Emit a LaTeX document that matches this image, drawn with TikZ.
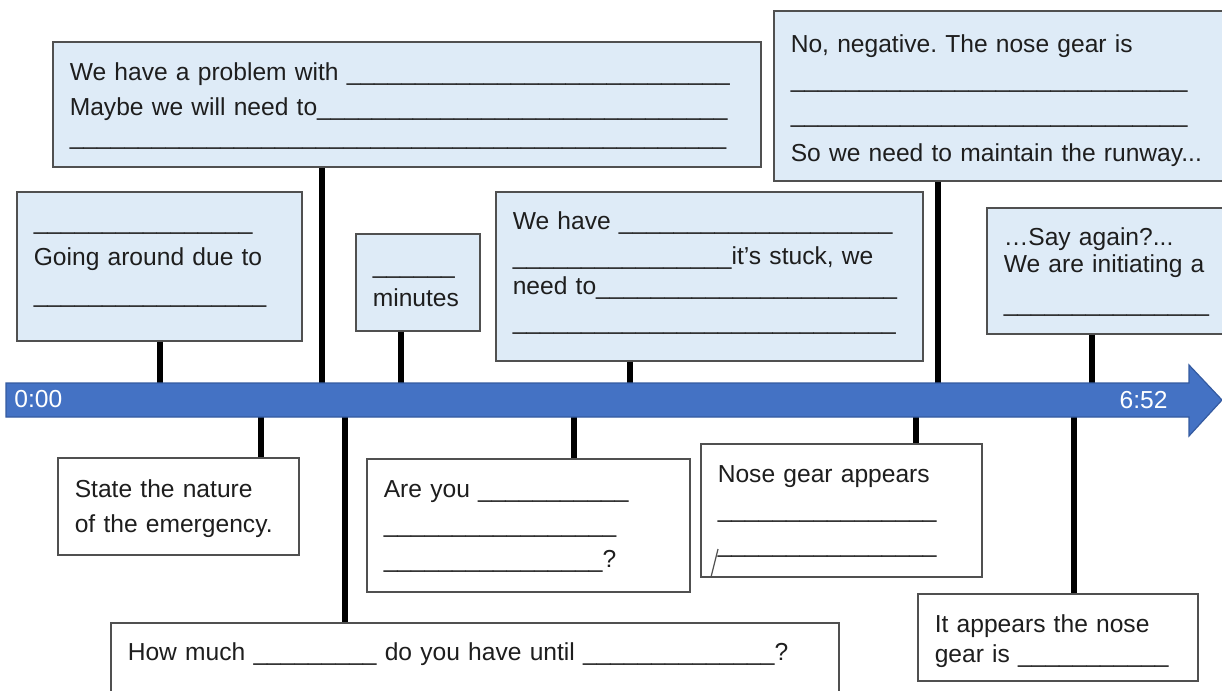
\documentclass[tikz,border=0pt]{standalone}
\usepackage{fontspec}
\setmainfont{Liberation Sans}
\frenchspacing

\definecolor{tlblue}{RGB}{68,114,196}
\definecolor{tledge}{RGB}{52,90,160}
\definecolor{boxfill}{RGB}{222,235,247}
\definecolor{boxline}{RGB}{80,80,80}
\definecolor{ink}{RGB}{30,30,30}

% a blank of #1 underscores
\newcommand{\blank}[1]{\foreach\n in {1,...,#1}{\_}}

\tikzset{
  box/.style={draw=boxline, line width=0.8pt, anchor=north west,
    inner xsep=8.5pt, inner ysep=0pt, align=left, text=ink,
    font=\fontsize{12.3pt}{17.5pt}\selectfont, text height=19.5pt},
  bluebox/.style={box, fill=boxfill},
  whitebox/.style={box, fill=white},
  stick/.style={line width=3.2pt, black},
  tllabel/.style={text=white, inner sep=0pt, font=\fontsize{12.3pt}{15pt}\selectfont}
}

\begin{document}
\begin{tikzpicture}[x=0.5pt,y=-0.5pt]
  \useasboundingbox (0,0) rectangle (1222,691);

  %%%%%%%%%%%%%%%%%%%%%%%%%%%%%%%%%%%%%%%%%%%%%%%%%%%%%%%%%%%%%%%%%%%%%
  % boxes above the line
  \node[bluebox, text width=337pt, text depth=43pt] (problem) at (52,41)
    {We have a problem with \blank{28}\\
     Maybe we will need to\blank{30}\\[-3pt]
     \blank{48}};
  \node[bluebox, text width=125.5pt, text height=18.75pt, text depth=55.75pt] (goaround) at (16,191)
    {\blank{16}\\[0.75pt]
     Going around due to\\[0.75pt]
     \blank{17}};
  \node[bluebox, text width=45pt, text height=19.75pt, text depth=28.75pt] (minutes) at (355,233)
    {\blank{6}\\[-0.75pt]
     minutes};
  \node[bluebox, text width=196.5pt, text height=19pt, text depth=65.5pt] (stuck) at (495,191)
    {We have \blank{20}\\
     \blank{16}it’s stuck, we\\[-2.5pt]
     need to\blank{22}\\
     \blank{28}};
  \node[bluebox, text width=212.5pt, text height=21pt, text depth=64pt] (negative) at (773,10)
    {No, negative. The nose gear is\\
     \blank{29}\\
     \blank{29}\\[1.75pt]
     So we need to maintain the runway...};
  \node[bluebox, text width=106pt, text height=19pt, text depth=44pt] (sayagain) at (986,207)
    {…Say again?...\\[-4pt]
     We are initiating a\\[1.75pt]
     \blank{15}};

  %%%%%%%%%%%%%%%%%%%%%%%%%%%%%%%%%%%%%%%%%%%%%%%%%%%%%%%%%%%%%%%%%%%%%
  % boxes below the line
  \node[whitebox, text width=103.5pt, text height=20pt, text depth=28.5pt] (nature) at (57,457)
    {State the nature\\
     of the emergency.};
  \node[whitebox, text width=347pt, text height=19pt, text depth=26pt] (howmuch) at (110,622)
    {How much \blank{9} do you have until \blank{14}?};
  \node[whitebox, text width=144.5pt, text depth=47pt] (areyou) at (366,458)
    {Are you \blank{11}\\
     \blank{17}\\
     \blank{16}?};
  \node[whitebox, text width=123.5pt, text depth=47pt] (appears) at (700,443)
    {Nose gear appears\\
     \blank{16}\\
     \blank{16}};
  \draw[boxline, line width=0.6pt] (718,549) -- (711,577);
  \node[whitebox, text width=123pt, text depth=24pt] (nosegear) at (917,593)
    {It appears the nose\\[-2.5pt]
     gear is \blank{11}};

  %%%%%%%%%%%%%%%%%%%%%%%%%%%%%%%%%%%%%%%%%%%%%%%%%%%%%%%%%%%%%%%%%%%%%
  % ticks on the time line
  \coordinate (tgoaround) at (160,400);
  \coordinate (tproblem) at (322,400);
  \coordinate (tminutes) at (401,400);
  \coordinate (tstuck) at (630,400);
  \coordinate (tnegative) at (938,400);
  \coordinate (tsayagain) at (1092,400);
  \coordinate (tnature) at (261,400);
  \coordinate (thowmuch) at (345,400);
  \coordinate (tareyou) at (574,400);
  \coordinate (tappears) at (916,400);
  \coordinate (tnosegear) at (1074,400);

  \draw[stick] (goaround.south -| tgoaround) -- (tgoaround);
  \draw[stick] (problem.south -| tproblem) -- (tproblem);
  \draw[stick] (minutes.south -| tminutes) -- (tminutes);
  \draw[stick] (stuck.south -| tstuck) -- (tstuck);
  \draw[stick] (negative.south -| tnegative) -- (tnegative);
  \draw[stick] (sayagain.south -| tsayagain) -- (tsayagain);
  \draw[stick] (tnature) -- (tnature |- nature.north);
  \draw[stick] (thowmuch) -- (thowmuch |- howmuch.north);
  \draw[stick] (tareyou) -- (tareyou |- areyou.north);
  \draw[stick] (tappears) -- (tappears |- appears.north);
  \draw[stick] (tnosegear) -- (tnosegear |- nosegear.north);

  % time line
  \filldraw[fill=tlblue, draw=tledge, line width=0.6pt]
    (6,383) -- (1189,383) -- (1189,365) -- (1222,400) -- (1189,436) -- (1189,417) -- (6,417) -- cycle;
  \node[tllabel, anchor=base west] (start) at (14,407) {0:00};
  \node[tllabel, anchor=base east] (end) at (1168,408) {6:52};

\end{tikzpicture}
\end{document}
